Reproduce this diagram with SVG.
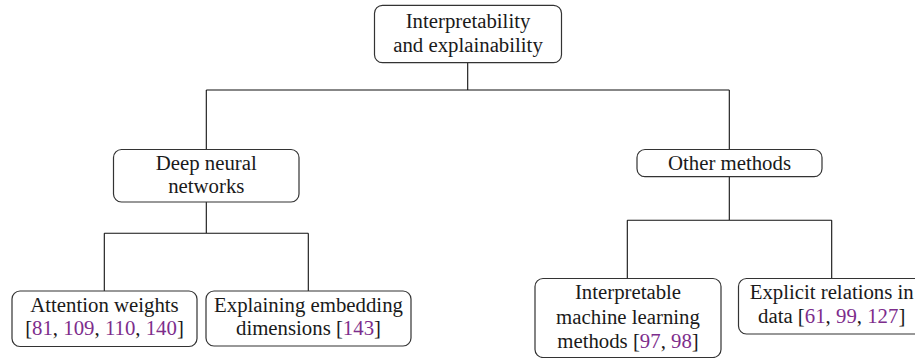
<svg xmlns="http://www.w3.org/2000/svg" width="915" height="358" viewBox="0 0 915 358">
<style>
.box{fill:#fff;stroke:#333;stroke-width:1.2}
.t{font-family:"Liberation Serif","Times New Roman",serif;font-size:20.8px;fill:#1a1a1a;text-anchor:middle}
.c{fill:#7d2d8c}
.e{fill:none;stroke:#111;stroke-width:1.1}
</style>
<rect width="915" height="358" fill="#fff"/>
<g id="connectors">
<path class="e" d="M467.7 62.7V90M206.3 90H729.3M206.3 90V149.5M729.3 90V149.5"/>
<path class="e" d="M206.3 202V233.3M104.3 233.3H308.3M104.3 233.3V291M308.3 233.3V291"/>
<path class="e" d="M729.3 176.7V220.3M627.3 220.3H831.7M627.3 220.3V278.5M831.7 220.3V278.5"/>
</g>
<g id="root">
<rect class="box" x="374.5" y="5.3" width="187" height="57.4" rx="8"/>
<text class="t" x="468" y="28.3">Interpretability</text>
<text class="t" x="468" y="51.7">and explainability</text>
</g>
<g id="deep">
<rect class="box" x="113.5" y="149.5" width="185.5" height="52.5" rx="8"/>
<text class="t" x="206.3" y="169.5">Deep neural</text>
<text class="t" x="206.3" y="193.3">networks</text>
</g>
<g id="other">
<rect class="box" x="637" y="149.5" width="185" height="27.2" rx="8"/>
<text class="t" x="729.5" y="169.5">Other methods</text>
</g>
<g id="attention">
<rect class="box" x="12" y="291" width="185" height="55.5" rx="8"/>
<text class="t" x="104.5" y="311.7">Attention weights</text>
<text class="t" x="104.5" y="334.5">[<tspan class="c">81</tspan>, <tspan class="c">109</tspan>, <tspan class="c">110</tspan>, <tspan class="c">140</tspan>]</text>
</g>
<g id="embedding">
<rect class="box" x="206" y="291" width="205" height="55" rx="8"/>
<text class="t" x="308.5" y="311.7">Explaining embedding</text>
<text class="t" x="308.5" y="334.5">dimensions [<tspan class="c">143</tspan>]</text>
</g>
<g id="interpretable">
<rect class="box" x="535" y="278.5" width="186" height="79" rx="8"/>
<text class="t" x="628" y="299.3">Interpretable</text>
<text class="t" x="628" y="324">machine learning</text>
<text class="t" x="628" y="348.3">methods [<tspan class="c">97</tspan>, <tspan class="c">98</tspan>]</text>
</g>
<g id="explicit">
<rect class="box" x="738.5" y="278.5" width="186" height="55.5" rx="8"/>
<text class="t" x="831.7" y="299.3">Explicit relations in</text>
<text class="t" x="831.7" y="323.3">data [<tspan class="c">61</tspan>, <tspan class="c">99</tspan>, <tspan class="c">127</tspan>]</text>
</g>
</svg>
